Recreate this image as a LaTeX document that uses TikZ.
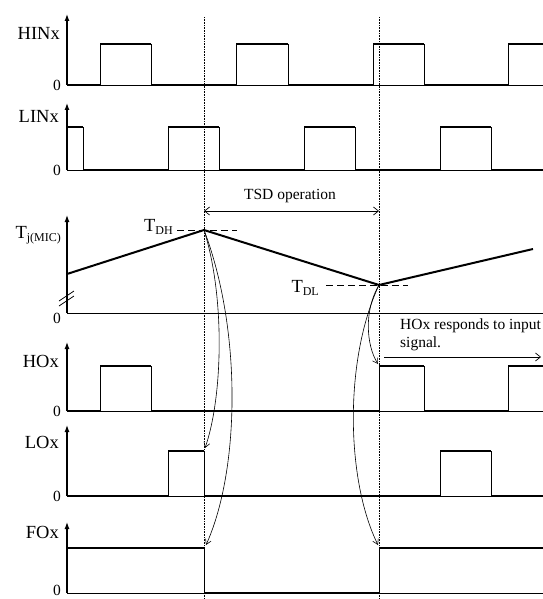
\documentclass[tikz,border=0pt]{standalone}
\usepackage{fontspec}
\setmainfont{Liberation Serif}
\usetikzlibrary{arrows.meta}

\tikzset{
  axis/.style={line width=0.9pt},
  yaxis/.style={line width=1.2pt, -{Latex[length=7pt,width=5pt]}},
  level/.style={line width=1.8pt},
  edge/.style={line width=0.7pt},
  marker/.style={densely dotted, line width=0.6pt},
  thres/.style={line width=0.8pt, dash pattern=on 7pt off 4pt},
  resp/.style={line width=0.6pt, -{Straight Barb[length=5pt,width=6pt]}},
  span/.style={line width=0.7pt, {Straight Barb[length=5pt,width=8pt]}-{Straight Barb[length=5pt,width=8pt]}},
  lbl/.style={anchor=east, inner sep=0pt, font=\fontsize{18.5}{20}\selectfont},
  zero/.style={anchor=east, inner sep=0pt, font=\fontsize{15.5}{17}\selectfont},
  note/.style={inner sep=0pt, font=\fontsize{15.5}{18}\selectfont},
}
\newcommand{\lowsub}[1]{\raisebox{-0.4ex}{\fontsize{12}{13}\selectfont #1}}

\begin{document}
\begin{tikzpicture}[x=1pt, y=-1pt]
  \useasboundingbox (0,0) rectangle (542,599);

  % TSD start / end markers
  \draw[marker] (204,17) -- (204,599);
  \draw[marker] (379,17) -- (379,599);

  % HINx
  \draw[axis] (67,85) -- (560,85);
  \draw[yaxis] (67,85) -- (67,14);
  \foreach \a/\b in {100/151, 236/288, 373/424, 508/570}
    \draw[edge] (\a,85) -- (\a,44) (\b,44) -- (\b,85);
  \draw[level] (67,85) -- (100,85) (100,44) -- (151,44) (151,85) -- (236,85)
    (236,44) -- (288,44) (288,85) -- (373,85) (373,44) -- (424,44)
    (424,85) -- (508,85) (508,44) -- (560,44);
  \node[lbl] (hin) at (60,33) {HINx};
  \node[zero] (hin0) at (61,85) {0};

  % LINx
  \draw[axis] (67,170) -- (560,170);
  \draw[yaxis] (67,170) -- (67,103);
  \foreach \a/\b in {67/83, 168/219, 304/355, 440/491}
    \draw[edge] (\a,170) -- (\a,127) (\b,127) -- (\b,170);
  \draw[level] (67,127) -- (83,127) (83,170) -- (168,170) (168,127) -- (219,127)
    (219,170) -- (304,170) (304,127) -- (355,127) (355,170) -- (440,170)
    (440,127) -- (491,127) (491,170) -- (560,170);
  \node[lbl] (lin) at (59,116) {LINx};
  \node[zero] (lin0) at (61,170) {0};

  % Tj(MIC)
  \coordinate (peak) at (204,230);
  \coordinate (valley) at (379,285);
  \draw[axis] (67,313) -- (560,313);
  \draw[yaxis] (67,313) -- (67,215);
  \draw[line width=0.7pt] (59,301) -- (74,291) (59,306) -- (74,296);
  \draw[line width=2pt] (67,274) -- (peak) -- (valley) -- (533,249);
  \draw[thres] (177,230) -- (237,230);
  \draw[thres] (326,285) -- (408,285);
  \node[lbl] (tj) at (61,235) {T\lowsub{j(MIC)}};
  \node[zero] (tj0) at (61,318) {0};
  \node[lbl, anchor=base east] (tdh) at (173,231) {T\lowsub{DH}};
  \node[lbl, anchor=base east] (tdl) at (319,292) {T\lowsub{DL}};

  % TSD operation
  \coordinate (tsda) at (204,211);
  \coordinate (tsdb) at (379,211);
  \draw[span] (tsda) -- (tsdb);
  \node[note] (tsd) at (290,196) {TSD operation};

  % HOx
  \draw[axis] (67,411) -- (560,411);
  \draw[yaxis] (67,411) -- (67,342);
  \foreach \a/\b in {100/151, 379/424, 508/570}
    \draw[edge] (\a,411) -- (\a,366) (\b,366) -- (\b,411);
  \draw[level] (67,411) -- (100,411) (100,366) -- (151,366) (151,411) -- (379,411)
    (379,366) -- (424,366) (424,411) -- (508,411) (508,366) -- (560,366);
  \node[lbl] (ho) at (59,361) {HOx};
  \node[zero] (ho0) at (61,411) {0};
  \node[note, anchor=north west, align=left] (resp) at (400,319)
    {HOx responds to input\\signal.};
  \coordinate (respa) at (384,357);
  \coordinate (respb) at (541,357);
  \draw[line width=0.7pt, -{Straight Barb[length=5pt,width=8pt]}] (respa) -- (respb);

  % LOx
  \draw[axis] (67,496) -- (560,496);
  \draw[yaxis] (67,496) -- (67,425);
  \foreach \a/\b in {168/204, 440/491}
    \draw[edge] (\a,496) -- (\a,451) (\b,451) -- (\b,496);
  \draw[level] (67,496) -- (168,496) (168,451) -- (204,451) (204,496) -- (440,496)
    (440,451) -- (491,451) (491,496) -- (560,496);
  \node[lbl] (lo) at (59,442) {LOx};
  \node[zero] (lo0) at (61,496) {0};

  % FOx
  \draw[axis] (67,593) -- (560,593);
  \draw[yaxis] (67,593) -- (67,522);
  \draw[edge] (204,548) -- (204,593) (379,593) -- (379,548);
  \draw[level] (67,548) -- (204,548) (204,593) -- (379,593) (379,548) -- (560,548);
  \node[lbl] (fo) at (59,532) {FOx};
  \node[zero] (fo0) at (61,590) {0};

  % responses to TSD
  \coordinate (loend) at (205,448);
  \coordinate (fooff) at (206,545);
  \coordinate (hoon) at (378,364);
  \coordinate (foon) at (378,545);
  \draw[resp] (peak) .. controls (226,300) and (222,400) .. (loend);
  \draw[resp] (peak) .. controls (242,330) and (240,470) .. (fooff);
  \draw[resp] (valley) .. controls (364,310) and (366,345) .. (hoon);
  \draw[resp] (valley) .. controls (344,360) and (346,480) .. (foon);
\end{tikzpicture}
\end{document}
